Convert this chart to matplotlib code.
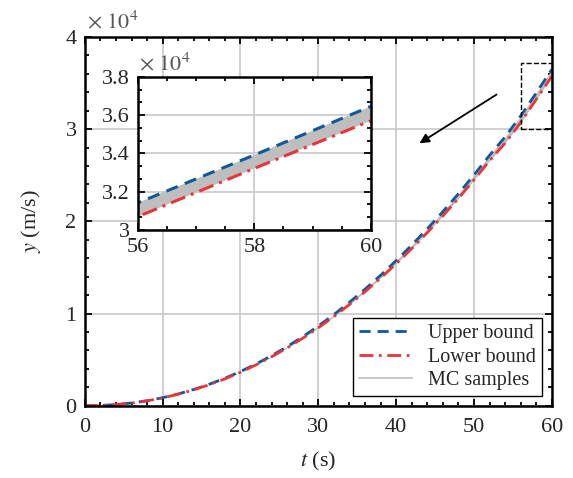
import matplotlib
matplotlib.use('Agg')
import matplotlib.pyplot as plt
from matplotlib.lines import Line2D
from matplotlib.patches import Rectangle
from matplotlib.ticker import FuncFormatter, MultipleLocator, AutoMinorLocator

plt.rcParams['font.family'] = ['Liberation Serif', 'DejaVu Serif']
plt.rcParams['mathtext.fontset'] = 'stix'

# time (s) and bounds (m/s)
t = [0, 2, 4, 6, 8, 10, 12, 14, 16, 18, 20, 22, 24, 26, 28, 30,
     32, 34, 36, 38, 40, 42, 44, 46, 48, 50, 52, 54, 56, 58, 60]
upper = [0, 31, 130, 304, 553, 880, 1286, 1772, 2339, 2988, 3722, 4536,
         5434, 6419, 7490, 8647, 9891, 11224, 12638, 14144, 15736, 17417,
         19185, 21043, 22986, 25022, 27150, 29150, 31420, 33920, 36460]
lower = [0, 30, 128, 298, 541, 860, 1258, 1734, 2289, 2923, 3641, 4438,
         5316, 6279, 7328, 8459, 9675, 10980, 12363, 13836, 15394, 17038,
         18767, 20585, 22486, 24478, 26560, 28480, 30700, 33220, 35710]

blue = '#10579B'
red = '#E8353B'
gray = '#BEBEBE'
txt = '#262626'
fs = 16

fmt = FuncFormatter(lambda v, p: f'{v / 1e4:g}')


def draw(ax, lw):
    ax.fill_between(t, lower, upper, color=gray, lw=0)
    ax.plot(t, upper, color=blue, ls=(0, (4, 2.5)), lw=lw)
    ax.plot(t, lower, color=red, ls=(0, (5, 2, 1, 2)), lw=lw)


def style(ax, xpad):
    ax.grid(True, color='#C8C8C8', lw=1.2)
    ax.set_axisbelow(True)
    ax.tick_params(which='both', direction='in', top=True, right=True,
                   labelsize=fs, width=1.3, labelcolor=txt)
    ax.tick_params(which='major', length=5, pad=6)
    ax.tick_params(axis='x', which='major', pad=xpad)
    ax.tick_params(which='minor', length=3)
    for s in ax.spines.values():
        s.set_linewidth(1.8)
    ax.yaxis.set_major_formatter(fmt)


fig = plt.figure(figsize=(5.73, 4.78), dpi=100)
ax = fig.add_axes([0.148, 0.151, 0.815, 0.772])
draw(ax, 2.0)
style(ax, 9)
ax.set_xlim(0, 60)
ax.set_ylim(0, 40000)
ax.xaxis.set_major_locator(MultipleLocator(10))
ax.xaxis.set_minor_locator(MultipleLocator(2))
ax.yaxis.set_major_locator(MultipleLocator(10000))
ax.yaxis.set_minor_locator(MultipleLocator(2000))
ax.set_xlabel('$t$ (s)', fontsize=fs, color=txt, labelpad=9)
ax.set_ylabel('$y$ (m/s)', fontsize=fs, color=txt, labelpad=16)
ax.text(0.005, 1.01, r'$\times\ 10^4$', transform=ax.transAxes, fontsize=fs,
        ha='left', va='bottom', color='#555555')

ax.add_patch(Rectangle((56, 30000), 4, 7200, fill=False, ls='--', lw=1.0,
                       ec='black', zorder=5))
ax.annotate('', xy=(42.7, 28300), xytext=(53.2, 33900),
            arrowprops=dict(arrowstyle='-|>', color='black', lw=1.3,
                            mutation_scale=14))

handles = [Line2D([], [], color=blue, ls=(0, (4, 2.5)), lw=2),
           Line2D([], [], color=red, ls=(0, (5, 2, 1, 2)), lw=2),
           Line2D([], [], color=gray, lw=1.2)]
leg = ax.legend(handles, ['Upper bound', 'Lower bound', 'MC samples'],
                loc='lower right', fontsize=14.5, fancybox=False,
                edgecolor='black', framealpha=1, handlelength=2.6,
                borderpad=0.3, labelspacing=0.2, handletextpad=0.8,
                borderaxespad=0.5)
leg.get_frame().set_linewidth(1.0)
for tx in leg.get_texts():
    tx.set_color(txt)

ins = fig.add_axes([0.241, 0.519, 0.406, 0.320])
draw(ins, 2.2)
style(ins, 6)
ins.set_xlim(56, 60)
ins.set_ylim(30000, 38000)
ins.xaxis.set_major_locator(MultipleLocator(2))
ins.xaxis.set_minor_locator(MultipleLocator(0.5))
ins.yaxis.set_major_locator(MultipleLocator(2000))
ins.yaxis.set_minor_locator(AutoMinorLocator(3))
ins.text(0.005, 1.01, r'$\times\ 10^4$', transform=ins.transAxes, fontsize=fs,
         ha='left', va='bottom', color='#555555')

fig.savefig('out.png', dpi=100)
